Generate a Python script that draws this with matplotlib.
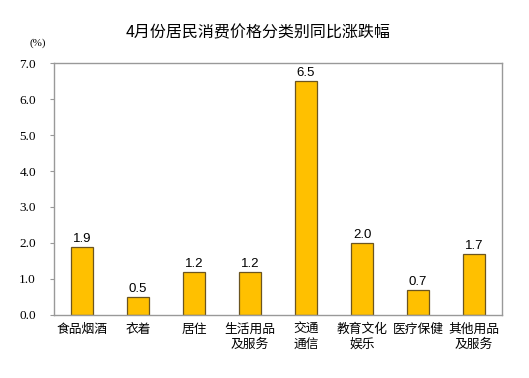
import matplotlib
matplotlib.use("Agg")
import matplotlib.pyplot as plt
import numpy as np

plt.rcParams["font.family"] = ["Noto Sans CJK SC", "DejaVu Sans"]

categories = ["食品烟酒", "衣着", "居住", "生活用品\n及服务", "交通\n通信",
              "教育文化\n娱乐", "医疗保健", "其他用品\n及服务"]
values = [1.9, 0.5, 1.2, 1.2, 6.5, 2.0, 0.7, 1.7]
yticks = [0.0, 1.0, 2.0, 3.0, 4.0, 5.0, 6.0, 7.0]

fig = plt.figure(figsize=(5.29, 3.78), dpi=100)
ax = fig.add_axes([0.102, 0.167, 0.847, 0.666])

x = np.arange(len(categories))
ax.bar(x, values, width=0.4, color="#FFC000", edgecolor="#6B5520", linewidth=0.9, zorder=2)
for xi, v in zip(x, values):
    ax.text(xi, v + 0.05, f"{v:.1f}", ha="center", va="bottom", fontsize=9.5,
            family="Liberation Sans", color="#000000")

ax.set_xlim(-0.5, len(categories) - 0.5)
ax.set_ylim(0, 7)
ax.set_yticks(yticks)
ax.set_yticklabels([f"{t:.1f}" for t in yticks], family="Liberation Serif", fontsize=9.5)
ax.set_xticks(x)
ax.set_xticklabels(categories, fontsize=9.2, linespacing=1.15)
ax.tick_params(axis="x", length=0, pad=6)
ax.tick_params(axis="y", length=3, color="#999999", direction="out", pad=10)
for spine in ax.spines.values():
    spine.set_edgecolor("#999999")
    spine.set_linewidth(1.0)

fig.text(0.072, 0.88, "(%)", family="Liberation Serif", fontsize=8, ha="center")
fig.text(0.488, 0.913, "4月份居民消费价格分类别同比涨跌幅", ha="center", va="center", fontsize=11.5)

fig.savefig("out.png", dpi=100, facecolor="white")
